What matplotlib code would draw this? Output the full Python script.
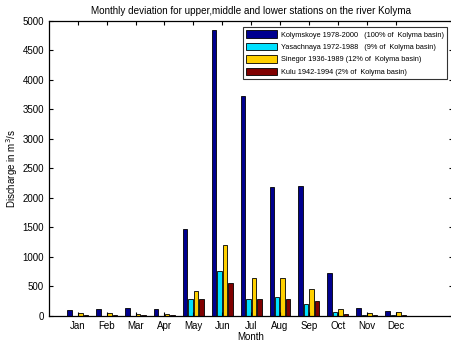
import numpy as np
import matplotlib
matplotlib.use("Agg")
import matplotlib.pyplot as plt

plt.rcParams['font.family'] = ['Liberation Sans', 'DejaVu Sans']

months = ["Jan", "Feb", "Mar", "Apr", "May", "Jun",
          "Jul", "Aug", "Sep", "Oct", "Nov", "Dec"]
kolymskoye = [100, 115, 130, 115, 1470, 4850, 3730, 2180, 2200, 735, 130, 90]
yasachnaya = [8, 8, 8, 8, 285, 770, 285, 320, 210, 60, 20, 20]
sinegor = [55, 55, 35, 40, 420, 1200, 640, 640, 460, 115, 50, 60]
kulu = [10, 10, 10, 10, 290, 565, 280, 290, 250, 35, 10, 10]

labels = ["Kolymskoye 1978-2000   (100% of  Kolyma basin)",
          "Yasachnaya 1972-1988   (9% of  Kolyma basin)",
          "Sinegor 1936-1989 (12% of  Kolyma basin)",
          "Kulu 1942-1994 (2% of  Kolyma basin)"]
colors = ["#00008F", "#00E1FF", "#FFD000", "#800000"]

fig = plt.figure(figsize=(4.52, 3.45), dpi=100)
ax = fig.add_axes([0.108, 0.084, 0.895, 0.856])

# grouped bars, four stations per month
x = np.arange(1, 13)
pitch = 0.19
width = 0.155
series = [kolymskoye, yasachnaya, sinegor, kulu]
for i, (vals, c, lab) in enumerate(zip(series, colors, labels)):
    ax.bar(x + (i - 1.5) * pitch, vals, width, color=c, edgecolor="black",
           linewidth=0.6, label=lab)

ax.set_xlim(0, 14)
ax.set_ylim(0, 5000)
ax.set_xticks(x)
ax.set_xticklabels(months)
ax.set_yticks(np.arange(0, 5001, 500))
ax.tick_params(direction="in", top=True, right=True, labelsize=7,
               length=3, width=0.8)
for s in ax.spines.values():
    s.set_linewidth(0.9)

ax.set_title("Monthly deviation for upper,middle and lower stations on the river Kolyma",
             fontsize=7.1, pad=5)
ax.set_xlabel("Month", fontsize=7, labelpad=1)
ax.set_ylabel("Discharge in m$^3$/s", fontsize=7, labelpad=2)

leg = ax.legend(loc="upper right", bbox_to_anchor=(0.993, 0.99), fontsize=5.35,
                frameon=True, fancybox=False, edgecolor="black",
                handlelength=4.2, handleheight=1.2, borderpad=0.4,
                labelspacing=0.55, handletextpad=0.55)
leg.get_frame().set_linewidth(0.8)

fig.savefig("out.png", dpi=100)
